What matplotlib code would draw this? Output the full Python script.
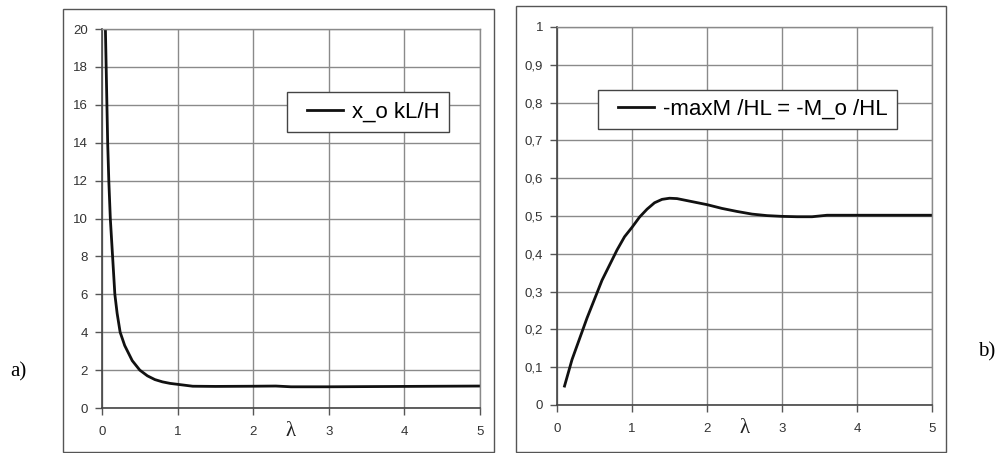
import matplotlib
matplotlib.use('Agg')
import matplotlib.pyplot as plt
from matplotlib.patches import Rectangle
from matplotlib.lines import Line2D
from matplotlib.legend_handler import HandlerLine2D

plt.rcParams['font.family'] = ['Liberation Sans', 'DejaVu Sans']

# curve a): x_o kL/H against lambda
lam_a = [0.045, 0.06, 0.075, 0.09, 0.11, 0.14, 0.17, 0.2, 0.24, 0.3, 0.4, 0.5,
         0.6, 0.7, 0.8, 0.9, 1.0, 1.2, 1.5, 2.0, 2.3, 2.5, 3.0, 3.5, 4.0, 4.5, 5.0]
xo_a = [20, 17, 14, 12, 10, 8, 6, 5, 4, 3.3, 2.5, 2.0,
        1.7, 1.5, 1.38, 1.3, 1.25, 1.15, 1.14, 1.15, 1.16, 1.12, 1.12, 1.13,
        1.14, 1.15, 1.16]

# curve b): -maxM/HL against lambda
lam_b = [0.1, 0.2, 0.3, 0.4, 0.5, 0.6, 0.7, 0.8, 0.9, 1.0, 1.1, 1.2, 1.3, 1.4,
         1.5, 1.6, 1.8, 2.0, 2.2, 2.4, 2.6, 2.8, 3.0, 3.2, 3.4, 3.6, 4.0, 4.5, 5.0]
m_b = [0.05, 0.12, 0.175, 0.23, 0.28, 0.33, 0.37, 0.41, 0.445, 0.47, 0.497,
       0.518, 0.535, 0.544, 0.547, 0.546, 0.538, 0.53, 0.52, 0.512, 0.505,
       0.501, 0.499, 0.498, 0.498, 0.502, 0.502, 0.502, 0.502]

xticks = [0, 1, 2, 3, 4, 5]
yticks_a = list(range(0, 21, 2))
yticks_b = [i / 10 for i in range(11)]
ylabels_b = ['0'] + ['0,%d' % i for i in range(1, 10)] + ['1']

legend_a = 'x_o kL/H'
legend_b = '-maxM /HL = -M_o /HL'

fig = plt.figure(figsize=(10.02, 4.53), dpi=100)
fig.patch.set_facecolor('white')

# outer chart frames
for x0, y0, w, h in [(0.063, 0.002, 0.430, 0.978), (0.515, 0.002, 0.429, 0.984)]:
    fig.add_artist(Rectangle((x0, y0), w, h, transform=fig.transFigure,
                             fill=False, edgecolor='#555555', linewidth=1.0))

ax_a = fig.add_axes([0.1018, 0.0993, 0.3772, 0.8366])
ax_b = fig.add_axes([0.5559, 0.106, 0.3743, 0.8344])


def style(ax, yticks, ylabels, ylim):
    ax.set_xlim(0, 5)
    ax.set_ylim(*ylim)
    ax.set_xticks(xticks)
    ax.set_yticks(yticks)
    ax.set_yticklabels(ylabels)
    ax.grid(True, color='#8a8a8a', linewidth=1.0)
    ax.set_axisbelow(True)
    for side in ['top', 'right']:
        ax.spines[side].set_color('#8a8a8a')
        ax.spines[side].set_linewidth(1.0)
    for side in ['left', 'bottom']:
        ax.spines[side].set_color('#444444')
        ax.spines[side].set_linewidth(1.2)
    ax.tick_params(axis='both', direction='out', length=5, width=1,
                   color='#555555', labelcolor='#333333', labelsize=9.5)
    ax.tick_params(axis='x', pad=8)
    ax.tick_params(axis='y', pad=5)
    ax.annotate('λ', xy=(2.5, -0.061), xycoords=('data', 'axes fraction'),
                ha='center', va='center', fontsize=15,
                family='Liberation Serif', color='#222222')


style(ax_a, yticks_a, [str(v) for v in yticks_a], (0, 20))
style(ax_b, yticks_b, ylabels_b, (0, 1))

ax_a.plot(lam_a, xo_a, color='#111111', linewidth=2.0, label=legend_a)
ax_b.plot(lam_b, m_b, color='#111111', linewidth=2.0, label=legend_b)

for ax, anchor in [(ax_a, (0.489, 0.834)), (ax_b, (0.109, 0.834))]:
    leg = ax.legend(loc='upper left', bbox_to_anchor=anchor, borderaxespad=0,
                    fancybox=False, framealpha=1, edgecolor='#444444',
                    prop={'size': 16}, handlelength=2.1, handletextpad=0.4,
                    borderpad=0.42,
                    handler_map={Line2D: HandlerLine2D(xpad=0.5)})
    leg.get_frame().set_linewidth(1.0)

fig.text(0.018, 0.179, 'a)', fontsize=15, family='Liberation Serif',
         ha='center', va='center')
fig.text(0.985, 0.223, 'b)', fontsize=15, family='Liberation Serif',
         ha='center', va='center')

fig.savefig('out.png', dpi=100)
